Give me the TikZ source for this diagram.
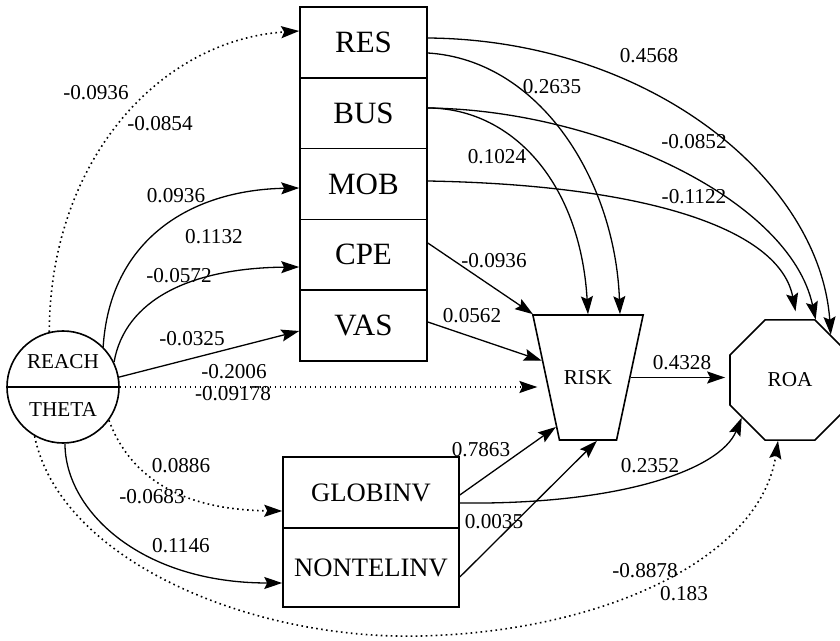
\documentclass[tikz,border=0pt]{standalone}
\usepackage{fontspec}
\setmainfont{Liberation Serif}
\usetikzlibrary{arrows.meta,shapes.geometric}
\begin{document}
\begin{tikzpicture}[x=0.5pt,y=-0.5pt,
  box/.style={draw, line width=0.8pt, minimum width=63.5pt, minimum height=35.4pt,
    inner sep=0pt, font=\fontsize{15.5}{17}\selectfont},
  lowbox/.style={draw, line width=0.8pt, minimum width=88pt, inner sep=0pt,
    font=\fontsize{13.3}{15}\selectfont},
  small/.style={font=\fontsize{10.6}{12}\selectfont, inner sep=0pt},
  coef/.style={small},
  link/.style={line width=0.65pt, -{Stealth[length=9pt,width=6pt,inset=1.5pt]}},
  dots/.style={link, line width=0.8pt, dash pattern=on 0.8pt off 1.7pt},
]
\useasboundingbox (0,0) rectangle (840,641);

% latent variable circle
\node[circle, draw, line width=0.8pt, minimum size=56pt, inner sep=0pt] (reach) at (63,387) {};
\draw[line width=0.8pt] (reach.west) -- (reach.east);
\node[small] (reachtxt) at (63,362) {REACH};
\node[small] (thetatxt) at (63,410) {THETA};

% stacked indicator boxes
\node[box] (res) at (363.5,42.4) {RES};
\node[box] (bus) at (363.5,113.2) {BUS};
\node[box] (mob) at (363.5,184) {MOB};
\node[box] (cpe) at (363.5,254.8) {CPE};
\node[box] (vas) at (363.5,325.6) {VAS};

\node[lowbox, minimum height=35.5pt] (glob) at (371,492.5) {GLOBINV};
\node[lowbox, minimum height=39.5pt] (nontel) at (371,567.5) {NONTELINV};

% outcome shapes
\node[draw, trapezium, shape border rotate=180, trapezium left angle=78,
  trapezium right angle=78, inner xsep=2.2pt, inner ysep=27.7pt,
  line width=0.8pt, font=\fontsize{10.6}{12}\selectfont] (risk) at (588,377.5) {RISK};
\node[draw, regular polygon, regular polygon sides=8, minimum size=65pt,
  inner sep=0pt, line width=0.8pt, small] (roa) at (790,380) {ROA};

% paths from the latent variable
\draw[dots] (reach.104) .. controls (50,160) and (160,40) .. ([yshift=5.7pt]res.west);
\draw[link] (reach.45) .. controls (110,240) and (190,190) .. ([yshift=-2pt]mob.west);
\draw[link] (reach.26) .. controls (125,300) and (190,268) .. ([yshift=-6.1pt]cpe.west);
\draw[link] (reach.10) -- ([yshift=-2.7pt]vas.west);
\draw[dots, shorten >=4pt] (reach.east) -- (reach.east -| risk.west);
\draw[dots] (reach.-36) .. controls (135,490) and (200,510) .. ([yshift=-9.25pt]glob.west);
\draw[link] (reach.-88) .. controls (65,510) and (140,583) .. ([yshift=-7.75pt]nontel.west);
\draw[dots] (reach.240) .. controls (60,560) and (250,640) .. (420,636)
  .. controls (600,632) and (760,560) .. ([xshift=-6pt]roa.south);

% paths into RISK and ROA
\draw[link] ([yshift=2.2pt]res.east) .. controls (650,40) and (820,180) .. (roa.48);
\draw[link] ([yshift=-5.3pt]res.east) .. controls (540,60) and (615,180) .. ([xshift=16pt]risk.90);
\draw[link] ([yshift=2.6pt]bus.east) .. controls (510,108) and (580,180) .. (risk.90);
\draw[link] ([yshift=2.6pt]bus.east) .. controls (600,110) and (790,200) .. (roa.67);
\draw[link, shorten >=4pt] ([yshift=1.5pt]mob.east) .. controls (650,185) and (780,230) .. ([xshift=3.5pt]roa.90);
\draw[link] ([yshift=5.9pt]cpe.east) -- (risk.131);
\draw[link] ([yshift=1.8pt]vas.east) -- (risk.160);
\draw[link, shorten >=2pt] (risk.0) -- (risk.0 -| roa.west);
\draw[link] ([yshift=-1.25pt]glob.east) -- (risk.237);
\draw[link] ([yshift=-4.75pt]nontel.east) -- (risk.278);
\draw[link] ([yshift=-5.25pt]glob.east) .. controls (620,505) and (720,470) .. (roa.218);

% path coefficients
\node[coef] (c01) at (96,93) {-0.0936};
\node[coef] (c02) at (160,124) {-0.0854};
\node[coef] (c03) at (176,196) {0.0936};
\node[coef] (c04) at (214,237) {0.1132};
\node[coef] (c05) at (179,276) {-0.0572};
\node[coef] (c06) at (192,339) {-0.0325};
\node[coef] (c07) at (234,372) {-0.2006};
\node[coef] (c08) at (233,394) {-0.09178};
\node[coef] (c09) at (181,466) {0.0886};
\node[coef] (c10) at (152,497) {-0.0683};
\node[coef] (c11) at (181,546) {0.1146};
\node[coef] (c12) at (649,56) {0.4568};
\node[coef] (c13) at (552,87) {0.2635};
\node[coef] (c14) at (694,142) {-0.0852};
\node[coef] (c15) at (497,157) {0.1024};
\node[coef] (c16) at (694,197) {-0.1122};
\node[coef] (c17) at (494,261) {-0.0936};
\node[coef] (c18) at (472,316) {0.0562};
\node[coef] (c19) at (682,363) {0.4328};
\node[coef] (c20) at (481,450) {0.7863};
\node[coef] (c21) at (494,522) {0.0035};
\node[coef] (c22) at (650,466) {0.2352};
\node[coef] (c23) at (645,571) {-0.8878};
\node[coef] (c24) at (684,594) {0.183};
\end{tikzpicture}
\end{document}
